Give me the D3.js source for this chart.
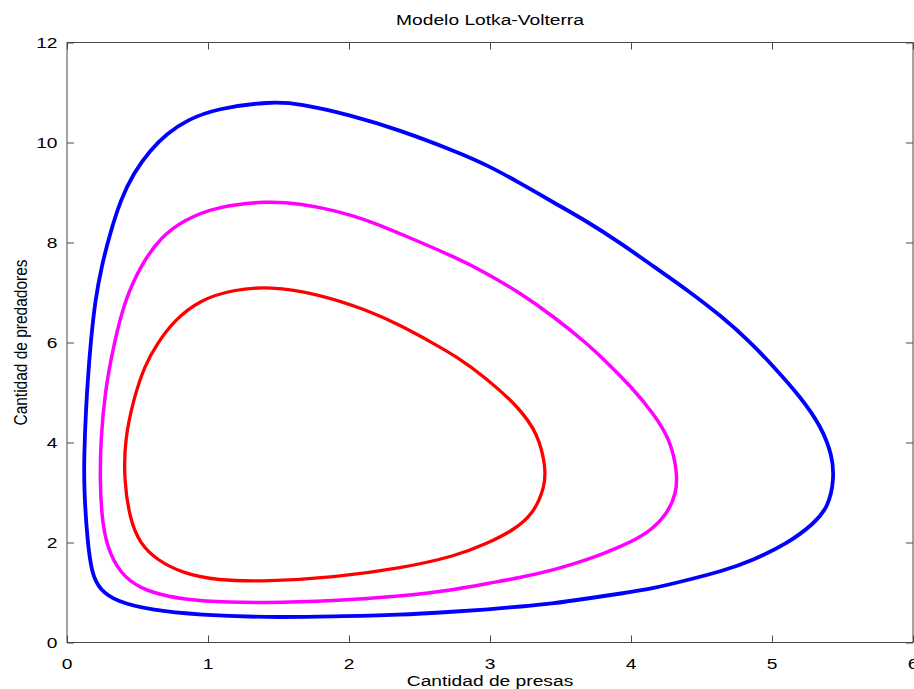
<!DOCTYPE html>
<html>
<head>
<meta charset="utf-8">
<script src="https://cdn.jsdelivr.net/npm/d3@7/dist/d3.min.js"></script>
<style>
  html, body { margin: 0; padding: 0; background: #fff; }
  svg { display: block; }
  text { font-family: "Liberation Sans", Arial, Helvetica, sans-serif; fill: #000; }
</style>
</head>
<body>
<svg id="chart" width="914" height="689"></svg>
<script>
// Trayectorias del modelo depredador-presa (plano de fase)
const tituloGrafico = "Modelo Lotka-Volterra";
const etiquetaX = "Cantidad de presas";
const etiquetaY = "Cantidad de predadores";

const ticksX = [0, 1, 2, 3, 4, 5, 6];
const ticksY = [0, 2, 4, 6, 8, 10, 12];

// Órbita exterior (azul)
const presasAzul = [1.42, 1.89, 2.36, 2.76, 2.98, 3.22, 3.45, 3.69, 3.93, 4.16, 4.40, 4.64, 4.87, 5.11, 5.30, 5.40, 5.44, 5.43, 5.35, 5.20, 5.01, 4.85, 4.64, 4.40, 4.16, 3.93, 3.69, 3.45, 3.22, 2.98, 2.76, 2.36, 2.01, 1.65, 1.44, 1.06, 0.85, 0.71, 0.59, 0.47, 0.38, 0.305, 0.245, 0.20, 0.168, 0.151, 0.135, 0.121, 0.121, 0.144, 0.175, 0.234, 0.352, 0.589, 0.943];
const predadoresAzul = [0.50, 0.52, 0.55, 0.62, 0.66, 0.72, 0.78, 0.88, 0.98, 1.08, 1.25, 1.42, 1.65, 1.98, 2.38, 2.72, 3.25, 3.72, 4.32, 4.92, 5.52, 6.00, 6.53, 7.05, 7.52, 7.98, 8.42, 8.80, 9.18, 9.55, 9.82, 10.25, 10.55, 10.78, 10.82, 10.68, 10.45, 10.18, 9.85, 9.38, 8.85, 8.18, 7.52, 6.85, 6.00, 5.38, 4.72, 3.72, 3.05, 2.05, 1.38, 1.05, 0.82, 0.65, 0.55];

// Órbita intermedia (magenta)
const presasMagenta = [1.42, 1.89, 2.36, 2.76, 2.98, 3.22, 3.45, 3.69, 3.93, 4.12, 4.26, 4.32, 4.33, 4.28, 4.16, 4.00, 3.83, 3.68, 3.45, 3.22, 2.98, 2.76, 2.36, 2.13, 1.89, 1.65, 1.42, 1.06, 0.83, 0.67, 0.53, 0.41, 0.335, 0.27, 0.239, 0.234, 0.246, 0.281, 0.376, 0.518, 0.707, 0.943];
const predadoresMagenta = [0.79, 0.83, 0.92, 1.06, 1.18, 1.30, 1.45, 1.65, 1.92, 2.18, 2.58, 2.98, 3.38, 4.05, 4.58, 5.12, 5.60, 6.00, 6.52, 6.98, 7.38, 7.70, 8.18, 8.45, 8.65, 8.78, 8.83, 8.72, 8.45, 8.12, 7.58, 6.85, 6.00, 5.05, 4.05, 3.25, 2.52, 1.92, 1.38, 1.08, 0.92, 0.82];

// Órbita interior (roja)
const presasRoja = [1.42, 1.89, 2.36, 2.76, 2.98, 3.17, 3.31, 3.39, 3.395, 3.34, 3.20, 2.96, 2.76, 2.62, 2.36, 2.13, 1.77, 1.44, 1.18, 0.94, 0.76, 0.64, 0.55, 0.47, 0.41, 0.404, 0.447, 0.518, 0.636, 0.825, 1.06];
const predadoresRoja = [1.22, 1.30, 1.48, 1.73, 1.98, 2.25, 2.58, 3.12, 3.52, 4.18, 4.72, 5.32, 5.72, 5.95, 6.35, 6.65, 6.98, 7.12, 7.06, 6.85, 6.44, 5.98, 5.54, 4.85, 4.05, 3.25, 2.45, 1.98, 1.65, 1.38, 1.24];

const orbitas = [
  { presas: presasAzul, predadores: predadoresAzul, color: "#0000ff", ancho: 3.8 },
  { presas: presasMagenta, predadores: predadoresMagenta, color: "#ff00ff", ancho: 3.5 },
  { presas: presasRoja, predadores: predadoresRoja, color: "#ff0000", ancho: 3.3 }
];

const svg = d3.select("#chart");
const izq = 67, der = 913, arriba = 42.5, abajo = 642.5;
const x = d3.scaleLinear().domain([0, 6]).range([izq, der]);
const y = d3.scaleLinear().domain([0, 12]).range([abajo, arriba]);

const tamFuente = 15.5;
const estiramiento = 1.24;
const colorEje = "#484848";
const largoTick = 7;

// Trayectorias cerradas, suavizadas con B-spline
const linea = d3.line()
  .x(d => x(d[0]))
  .y(d => y(d[1]))
  .curve(d3.curveBasisClosed);

svg.append("g").selectAll("path")
  .data(orbitas)
  .join("path")
  .attr("d", o => linea(d3.zip(o.presas, o.predadores)))
  .attr("fill", "none")
  .attr("stroke", o => o.color)
  .attr("stroke-width", o => o.ancho)
  .attr("stroke-linejoin", "round");

// Marco de los ejes con marcas hacia dentro en los cuatro lados
const marco = svg.append("g").attr("stroke", colorEje).attr("stroke-width", 1).attr("fill", "none");
marco.append("rect")
  .attr("x", izq).attr("y", arriba)
  .attr("width", der - izq).attr("height", abajo - arriba);

const ejeInf = d3.axisBottom(x).tickValues(ticksX).tickSize(-largoTick).tickFormat("");
const ejeSup = d3.axisTop(x).tickValues(ticksX).tickSize(-largoTick).tickFormat("");
const ejeIzq = d3.axisLeft(y).tickValues(ticksY).tickSize(-largoTick).tickFormat("");
const ejeDer = d3.axisRight(y).tickValues(ticksY).tickSize(-largoTick).tickFormat("");

function marcas(g) {
  g.select(".domain").remove();
  g.selectAll(".tick line").attr("stroke", colorEje).attr("stroke-width", 1);
}
svg.append("g").attr("transform", `translate(0,${abajo})`).call(ejeInf).call(marcas);
svg.append("g").attr("transform", `translate(0,${arriba})`).call(ejeSup).call(marcas);
svg.append("g").attr("transform", `translate(${izq},0)`).call(ejeIzq).call(marcas);
svg.append("g").attr("transform", `translate(${der},0)`).call(ejeDer).call(marcas);

// Texto con el ancho algo estirado en horizontal
function texto(tx, ty, contenido, ancla, rotar) {
  return svg.append("text")
    .attr("transform", `translate(${tx},${ty}) scale(${estiramiento},1)` + (rotar ? " rotate(-90)" : ""))
    .attr("text-anchor", ancla)
    .attr("font-size", tamFuente)
    .text(contenido);
}

// Etiquetas de las marcas
ticksX.forEach(v => texto(x(v), 668.5, d3.format("d")(v), "middle"));
ticksY.forEach(v => texto(57.5, y(v) + 5.5, d3.format("d")(v), "end"));

// Título y nombres de los ejes
texto((izq + der) / 2, 24.5, tituloGrafico, "middle");
texto((izq + der) / 2, 686, etiquetaX, "middle");
texto(27, (arriba + abajo) / 2, etiquetaY, "middle", true);
</script>
</body>
</html>
